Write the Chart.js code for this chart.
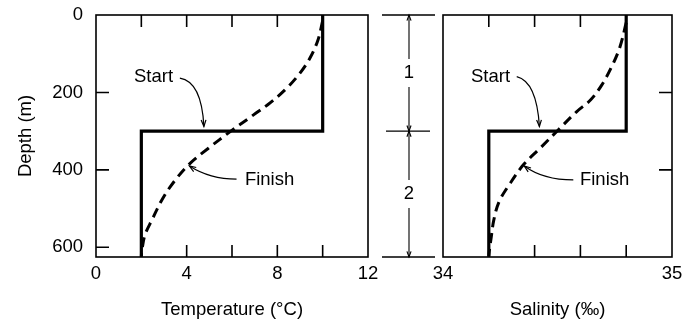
<!DOCTYPE html>
<html>
<head>
<meta charset="utf-8">
<script src="https://cdn.jsdelivr.net/npm/chart.js@4.4.1/dist/chart.umd.min.js"></script>
<style>
  html, body { margin: 0; padding: 0; background: #fff; }
  #wrap { position: relative; width: 684px; height: 325px; }
  #tempBox { position: absolute; left: 0; top: 0; width: 380px; height: 325px; }
  #salBox { position: absolute; left: 380px; top: 0; width: 304px; height: 325px; }
</style>
</head>
<body>
<div id="wrap">
  <div id="tempBox"><canvas id="tempChart" width="380" height="325"></canvas></div>
  <div id="salBox"><canvas id="salChart" width="304" height="325"></canvas></div>
</div>
<script>
const FONT = "'Liberation Sans', Arial, sans-serif";
const FSIZE = 18.5;

// step profile at the start
const startDepth = [0, 300, 300, 625];
const startTemp = [10, 10, 2, 2];
const startSal = [34.8, 34.8, 34.2, 34.2];

// mixed profile at the finish
const finishTempDepth = [15, 65, 111, 150, 188, 227, 258, 300, 344, 383, 426, 473, 529, 568, 606, 622];
const finishTemp = [10.0, 9.79, 9.44, 9.0, 8.43, 7.68, 6.95, 5.95, 4.96, 4.15, 3.5, 2.95, 2.47, 2.16, 2.03, 2.0];
const finishSalDepth = [20, 82, 133, 181, 219, 250, 297, 344, 387, 434, 482, 529, 572, 611, 622];
const finishSal = [34.8, 34.773, 34.737, 34.693, 34.645, 34.583, 34.503, 34.424, 34.351, 34.294, 34.245, 34.222, 34.211, 34.202, 34.2];

// axes
const depthMax = 625;
const depthLabels = [0, 200, 400, 600];
const tempTicks = [2, 4, 6, 8, 10];
const salTicks = [34.2, 34.4, 34.6, 34.8];
const salSideTicks = [200, 400];
const layerDepths = [0, 300, 625];
const layerNames = ['1', '2'];

// arrow notes, in data units
const tempNotes = [
  { label: 'Start', at: [3.4, 159], align: 'right', from: [3.7, 163], bend: [4.66, 172], to: [4.76, 288] },
  { label: 'Finish', at: [6.57, 426], align: 'left', from: [6.2, 424], bend: [5.03, 424], to: [4.12, 390] }
];
const salNotes = [
  { label: 'Start', at: [34.293, 159], align: 'right', from: [34.322, 159], bend: [34.409, 172], to: [34.421, 288] },
  { label: 'Finish', at: [34.598, 426], align: 'left', from: [34.569, 426], bend: [34.438, 426], to: [34.355, 390] }
];

const pts = (xs, ys) => xs.map((v, i) => ({ x: v, y: ys[i] }));

function arrowHead(ctx, tipX, tipY, fromX, fromY, len) {
  const ang = Math.atan2(tipY - fromY, tipX - fromX);
  ctx.beginPath();
  ctx.moveTo(tipX - len * Math.cos(ang - 0.35), tipY - len * Math.sin(ang - 0.35));
  ctx.lineTo(tipX, tipY);
  ctx.lineTo(tipX - len * Math.cos(ang + 0.35), tipY - len * Math.sin(ang + 0.35));
  ctx.stroke();
}

function panelPlugin(ticks, notes) {
  return {
    id: 'panel',
    afterDatasetsDraw(chart) {
      const { ctx, chartArea: a, scales: { x, y } } = chart;
      ctx.save();
      ctx.strokeStyle = '#000';
      ctx.lineWidth = 1.6;
      ctx.strokeRect(a.left, a.top, a.right - a.left, a.bottom - a.top);
      ctx.beginPath();
      ticks.top.forEach(v => { const px = x.getPixelForValue(v); ctx.moveTo(px, a.top); ctx.lineTo(px, a.top + 12); });
      ticks.bottom.forEach(v => { const px = x.getPixelForValue(v); ctx.moveTo(px, a.bottom); ctx.lineTo(px, a.bottom - 12); });
      ticks.left.forEach(v => { const py = y.getPixelForValue(v); ctx.moveTo(a.left, py); ctx.lineTo(a.left + 13, py); });
      ticks.right.forEach(v => { const py = y.getPixelForValue(v); ctx.moveTo(a.right, py); ctx.lineTo(a.right - 13, py); });
      ctx.stroke();

      ctx.fillStyle = '#000';
      ctx.font = FSIZE + 'px ' + FONT;
      ctx.textBaseline = 'middle';
      ctx.lineWidth = 1.2;
      notes.forEach(n => {
        ctx.textAlign = n.align;
        ctx.fillText(n.label, x.getPixelForValue(n.at[0]), y.getPixelForValue(n.at[1]));
        const p0 = [x.getPixelForValue(n.from[0]), y.getPixelForValue(n.from[1])];
        const c = [x.getPixelForValue(n.bend[0]), y.getPixelForValue(n.bend[1])];
        const p1 = [x.getPixelForValue(n.to[0]), y.getPixelForValue(n.to[1])];
        ctx.beginPath();
        ctx.moveTo(p0[0], p0[1]);
        ctx.quadraticCurveTo(c[0], c[1], p1[0], p1[1]);
        ctx.stroke();
        arrowHead(ctx, p1[0], p1[1], c[0], c[1], 7);
      });
      ctx.restore();
    }
  };
}

const layerPlugin = {
  id: 'layers',
  afterDraw(chart) {
    const { ctx, scales: { y } } = chart;
    const cx = 29;
    ctx.save();
    ctx.strokeStyle = '#000';
    ctx.fillStyle = '#000';
    ctx.lineWidth = 1.3;
    const ys = layerDepths.map(d => y.getPixelForValue(d));
    ctx.beginPath();
    ys.forEach((py, i) => {
      const inner = i > 0 && i < ys.length - 1;
      ctx.moveTo(inner ? 6 : 2, py);
      ctx.lineTo(inner ? 50 : 55, py);
    });
    ctx.stroke();
    ctx.font = FSIZE + 'px ' + FONT;
    ctx.textAlign = 'center';
    ctx.textBaseline = 'middle';
    for (let i = 0; i < layerNames.length; i++) {
      const y0 = ys[i], y1 = ys[i + 1], mid = (y0 + y1) / 2;
      ctx.lineWidth = 1.1;
      ctx.beginPath();
      ctx.moveTo(cx, y0); ctx.lineTo(cx, mid - 14);
      ctx.moveTo(cx, mid + 14); ctx.lineTo(cx, y1);
      ctx.stroke();
      arrowHead(ctx, cx, y0, cx, y0 + 10, 6);
      arrowHead(ctx, cx, y1, cx, y1 - 10, 6);
      ctx.fillText(layerNames[i], cx, mid);
    }
    ctx.restore();
  }
};

function makeChart(id, xMin, xMax, xStep, xTitle, startX, finishX, finishDepth, showDepthAxis, plugins) {
  return new Chart(document.getElementById(id), {
    type: 'scatter',
    data: {
      datasets: [
        {
          data: pts(startX, startDepth),
          showLine: true,
          borderColor: '#000',
          borderWidth: 3.2,
          borderJoinStyle: 'miter',
          pointRadius: 0,
          tension: 0
        },
        {
          data: pts(finishX, finishDepth),
          showLine: true,
          borderColor: '#000',
          borderWidth: 3,
          borderDash: [10, 6],
          pointRadius: 0,
          tension: 0.35
        }
      ]
    },
    options: {
      responsive: false,
      animation: false,
      events: [],
      devicePixelRatio: 1,
      layout: { padding: { top: 15, right: 12, left: showDepthAxis ? 0 : 63, bottom: 0 } },
      plugins: { legend: { display: false }, tooltip: { enabled: false } },
      scales: {
        x: {
          type: 'linear',
          min: xMin,
          max: xMax,
          afterFit: s => { s.height = 68; s.paddingLeft = 0; s.paddingRight = 0; },
          grid: { display: false, drawTicks: false },
          border: { display: false },
          ticks: { stepSize: xStep, padding: 6, color: '#000', font: { family: FONT, size: FSIZE } },
          title: { display: true, text: xTitle, color: '#000', padding: { top: 0, bottom: 4 }, font: { family: FONT, size: FSIZE } }
        },
        y: {
          type: 'linear',
          display: showDepthAxis,
          reverse: true,
          min: 0,
          max: depthMax,
          afterFit: s => { if (showDepthAxis) s.width = 96; s.paddingTop = 0; s.paddingBottom = 0; },
          grid: { display: false, drawTicks: false },
          border: { display: false },
          afterBuildTicks: s => { s.ticks = depthLabels.map(v => ({ value: v })); },
          ticks: { padding: 13, color: '#000', font: { family: FONT, size: FSIZE } },
          title: { display: true, text: 'Depth (m)', color: '#000', padding: { top: 15, bottom: 0 }, font: { family: FONT, size: FSIZE } }
        }
      }
    },
    plugins: plugins
  });
}

makeChart('tempChart', 0, 12, 4, 'Temperature (°C)', startTemp, finishTemp, finishTempDepth, true,
  [panelPlugin({ top: tempTicks, bottom: tempTicks, left: [200, 400, 600], right: [] }, tempNotes)]);

makeChart('salChart', 34, 35, 1, 'Salinity (‰)', startSal, finishSal, finishSalDepth, false,
  [panelPlugin({ top: salTicks, bottom: salTicks, left: [], right: salSideTicks }, salNotes), layerPlugin]);
</script>
</body>
</html>
